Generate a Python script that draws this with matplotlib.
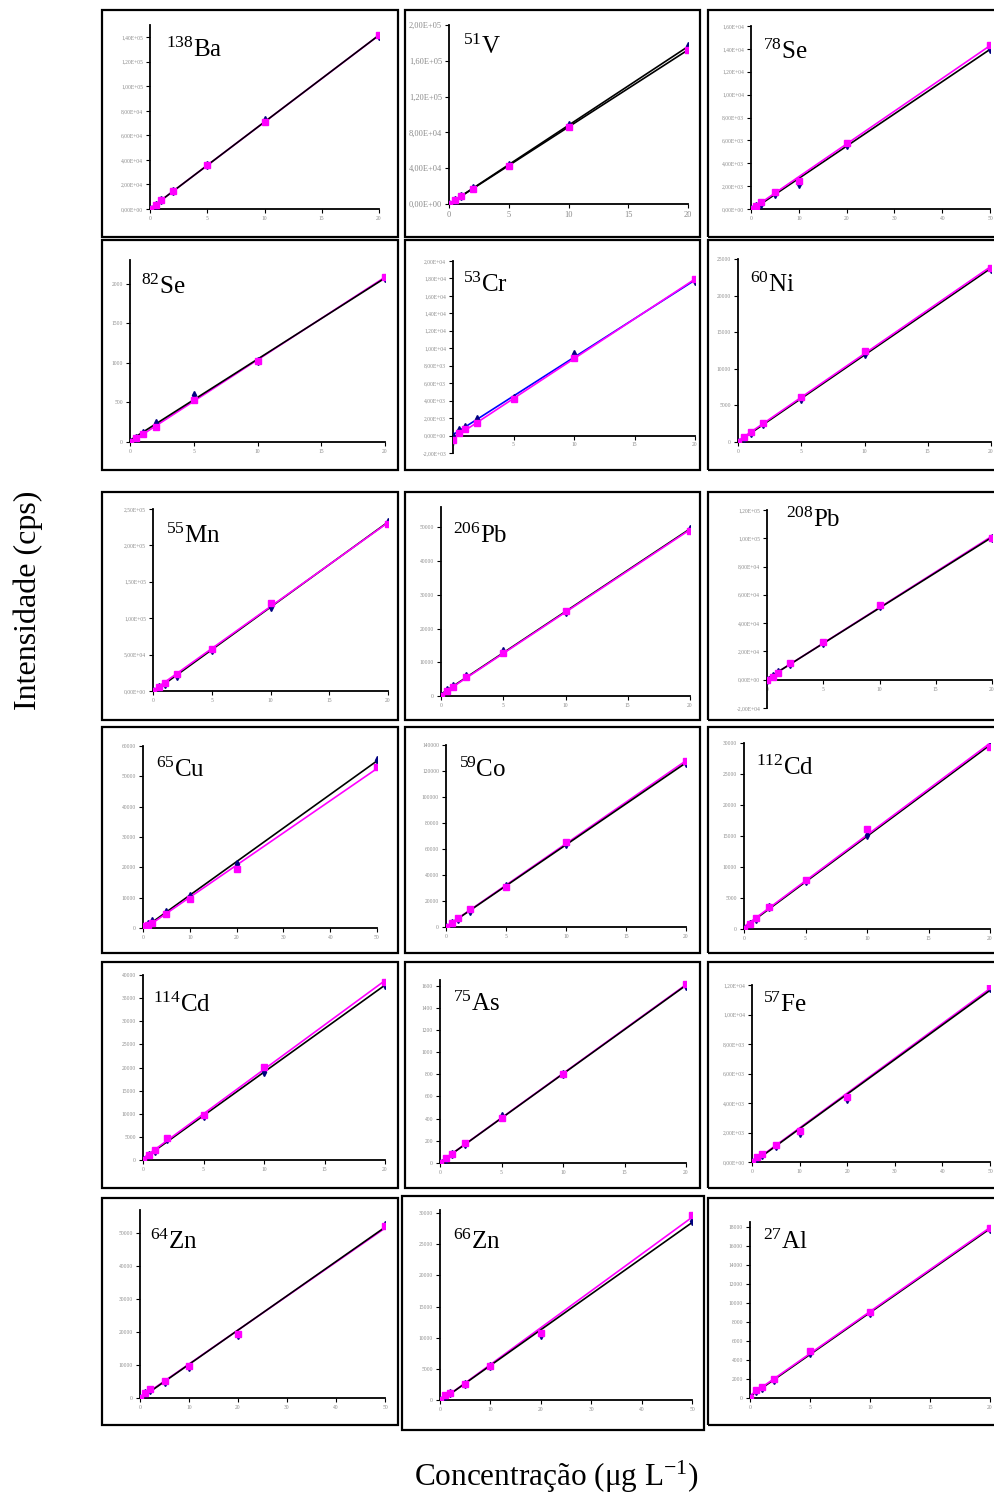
import numpy as np
import matplotlib
matplotlib.use('Agg')
import matplotlib.pyplot as plt
from matplotlib.patches import Rectangle
from matplotlib.ticker import FuncFormatter, MultipleLocator

plt.rcParams['font.family'] = ['Liberation Serif', 'DejaVu Serif']
plt.rcParams['mathtext.fontset'] = 'custom'
plt.rcParams['mathtext.rm'] = 'Liberation Serif'
plt.rcParams['mathtext.it'] = 'Liberation Serif:italic'

# concentrations (ug/L)
conc_20 = [0, 0.5, 1, 2, 5, 10, 20]
conc_50 = [0, 1, 2, 5, 10, 20, 50]

masses = ['138', '51', '78', '82', '53', '60', '55', '206', '208',
          '65', '59', '112', '114', '75', '57', '64', '66', '27']
elements = ['Ba', 'V', 'Se', 'Se', 'Cr', 'Ni', 'Mn', 'Pb', 'Pb',
            'Cu', 'Co', 'Cd', 'Cd', 'As', 'Fe', 'Zn', 'Zn', 'Al']
x_range = [20, 20, 50, 20, 20, 20, 20, 20, 20,
           50, 20, 20, 20, 20, 50, 50, 50, 20]

# y axis (min, max, step) and tick label style
y_axis = [(0, 1.5e5, 2e4), (0, 2e5, 4e4), (0, 1.6e4, 2e3), (0, 2300, 500),
          (-2000, 20000, 2000), (0, 25000, 5000), (0, 2.5e5, 5e4),
          (0, 56000, 10000), (-2e4, 1.2e5, 2e4), (0, 60000, 10000),
          (0, 140000, 20000), (0, 30000, 5000), (0, 40000, 5000),
          (0, 1650, 200), (0, 1.2e4, 2e3), (0, 57000, 10000),
          (0, 30500, 5000), (0, 18500, 2000)]
y_fmt = ['sci', 'sci', 'sci', 'int', 'sci', 'int', 'sci', 'int', 'sci',
         'int', 'int', 'int', 'int', 'int', 'sci', 'int', 'int', 'int']

# intensities (cps): series 1 (blue) and series 2 (magenta)
serie_azul = [
    [0, 3500, 7100, 14300, 35500, 72500, 141000],
    [0, 4400, 8900, 17800, 43500, 88000, 176000],
    [0, 250, 450, 1300, 2200, 5600, 14000],
    [0, 55, 120, 240, 590, 1020, 2070],
    [0, 600, 1000, 1900, 4300, 9300, 17700],
    [0, 600, 1200, 2400, 5900, 12000, 23700],
    [0, 5000, 9000, 20000, 56000, 116000, 232000],
    [0, 1800, 3000, 5800, 13200, 24800, 49500],
    [0, 2800, 5500, 11000, 26000, 52000, 100000],
    [0, 1200, 2200, 5200, 10500, 21000, 55500],
    [0, 3300, 6500, 12500, 31500, 64000, 126000],
    [0, 800, 1600, 3500, 7700, 15200, 29500],
    [0, 1000, 2000, 4500, 9500, 19000, 37800],
    [0, 40, 80, 170, 420, 800, 1600],
    [0, 300, 500, 1100, 2000, 4300, 11800],
    [0, 1500, 2500, 5000, 9500, 19000, 52500],
    [0, 700, 1100, 2500, 5500, 10500, 28800],
    [0, 700, 1100, 1900, 4700, 8900, 17800],
]
serie_magenta = [
    [0, 3600, 7000, 14800, 36000, 71000, 141500],
    [0, 4200, 8500, 17000, 43000, 86500, 172000],
    [0, 300, 600, 1450, 2450, 5800, 14300],
    [0, 45, 95, 190, 530, 1020, 2090],
    [-500, 300, 700, 1400, 4200, 8900, 17900],
    [0, 650, 1300, 2600, 6200, 12400, 23800],
    [0, 6000, 11500, 23000, 58000, 121000, 229000],
    [0, 1500, 2700, 5600, 12700, 25300, 49000],
    [0, 2000, 5000, 11500, 27000, 52500, 100500],
    [500, 900, 1800, 4500, 9500, 19500, 53200],
    [0, 3400, 7000, 13500, 31000, 65500, 127500],
    [0, 750, 1700, 3600, 7900, 16200, 29400],
    [0, 1100, 2200, 4800, 9800, 20200, 38500],
    [0, 45, 85, 180, 410, 800, 1610],
    [0, 320, 550, 1150, 2100, 4400, 11900],
    [0, 1600, 2600, 5100, 9800, 19500, 52000],
    [0, 800, 1200, 2600, 5400, 10800, 29700],
    [0, 800, 1200, 2000, 4900, 9000, 17900],
]
# trend line colours (series 1, series 2)
line_colors = [('black', 'magenta')] * 18
line_colors[1] = ('black', 'black')
line_colors[4] = ('blue', 'magenta')
# panels where the black line is drawn over the magenta one
black_on_top = [0, 1, 3, 8, 10, 13, 14, 15, 16]

W, H = 994, 1496

# layout in pixels
row_y = [(10, 237), (240, 470), (492, 720), (727, 953), (962, 1188), (1198, 1425)]
col_x = [(102, 398), (405, 700), (708, 1000)]
axes_px = [(150, 25, 379, 209), (449, 25, 688, 204), (751, 26, 990, 209),
           (130, 260, 385, 442), (453, 261, 695, 453), (738, 259, 991, 442),
           (153, 509, 388, 691), (441, 507, 690, 696), (767, 510, 992, 708),
           (143, 746, 377, 928), (446, 745, 686, 927), (744, 743, 990, 929),
           (143, 975, 385, 1160), (440, 980, 686, 1163), (752, 985, 990, 1162),
           (140, 1210, 385, 1398), (440, 1210, 692, 1400), (750, 1222, 990, 1398)]
title_px = [(166, 50), (463, 47), (763, 52), (141, 287), (463, 285), (750, 285),
            (166, 536), (453, 536), (786, 520), (156, 770), (459, 770), (756, 768),
            (153, 1005), (453, 1004), (763, 1005), (150, 1242), (453, 1242), (763, 1242)]


def sci_fmt(v, pos):
    return ('%.2E' % v).replace('.', ',')


def int_fmt(v, pos):
    return '%d' % round(v)


fig = plt.figure(figsize=(W / 100, H / 100), dpi=100)

for i in range(18):
    r, c = divmod(i, 3)
    fx0, fx1 = col_x[c]
    fy0, fy1 = row_y[r]
    if i == 16:
        fx0, fy0, fx1, fy1 = 402, 1196, 704, 1430
    fig.patches.append(Rectangle((fx0 / W, 1 - fy1 / H), (fx1 - fx0) / W, (fy1 - fy0) / H,
                                 transform=fig.transFigure, fill=False,
                                 edgecolor='black', linewidth=1.6))

    ax0, ay0, ax1, ay1 = axes_px[i]
    ax = fig.add_axes([ax0 / W, 1 - ay1 / H, (ax1 - ax0) / W, (ay1 - ay0) / H])
    ax.patch.set_alpha(0)

    xs = np.array(conc_20 if x_range[i] == 20 else conc_50)
    ya = np.array(serie_azul[i])
    yb = np.array(serie_magenta[i])
    xx = np.linspace(0, x_range[i], 50)
    ka = np.polyfit(xs, ya, 1)
    kb = np.polyfit(xs, yb, 1)
    za, zb = (3, 2) if i in black_on_top else (2, 3)
    ax.plot(xx, np.polyval(ka, xx), color=line_colors[i][0], lw=1.2, zorder=za)
    ax.plot(xx, np.polyval(kb, xx), color=line_colors[i][1], lw=1.2, zorder=zb)
    ax.plot(xs, ya, 'd', color='#000080', ms=4, zorder=4)
    ax.plot(xs, yb, 's', color='magenta', ms=4, zorder=5)

    ymin, ymax, ystep = y_axis[i]
    ax.set_xlim(0, x_range[i])
    ax.set_ylim(ymin, ymax)
    ax.xaxis.set_major_locator(MultipleLocator(10 if x_range[i] == 50 else 5))
    ax.yaxis.set_major_locator(MultipleLocator(ystep))
    ax.yaxis.set_major_formatter(FuncFormatter(sci_fmt if y_fmt[i] == 'sci' else int_fmt))
    for s in ['top', 'right']:
        ax.spines[s].set_visible(False)
    for s in ['left', 'bottom']:
        ax.spines[s].set_linewidth(1.3)
    if ymin < 0:
        ax.spines['bottom'].set_position(('data', 0))
    lsize = 6 if i == 1 else 4
    ax.tick_params(axis='both', direction='out', length=3, width=0.8,
                   labelsize=lsize, labelcolor='#8a8a8a', pad=2)

    tx, ty = title_px[i]
    fig.text(tx / W, 1 - ty / H, r'$^{%s}$%s' % (masses[i], elements[i]),
             fontsize=18, ha='left', va='center')

fig.text(28 / W, 1 - 600 / H, 'Intensidade (cps)', rotation=90, fontsize=23,
         ha='center', va='center')
fig.text(556 / W, 1 - 1477 / H, r'Concentração (μg L$^{\mathregular{-1}}$)', fontsize=22.5,
         ha='center', va='center')

fig.savefig('out.png', dpi=100)
